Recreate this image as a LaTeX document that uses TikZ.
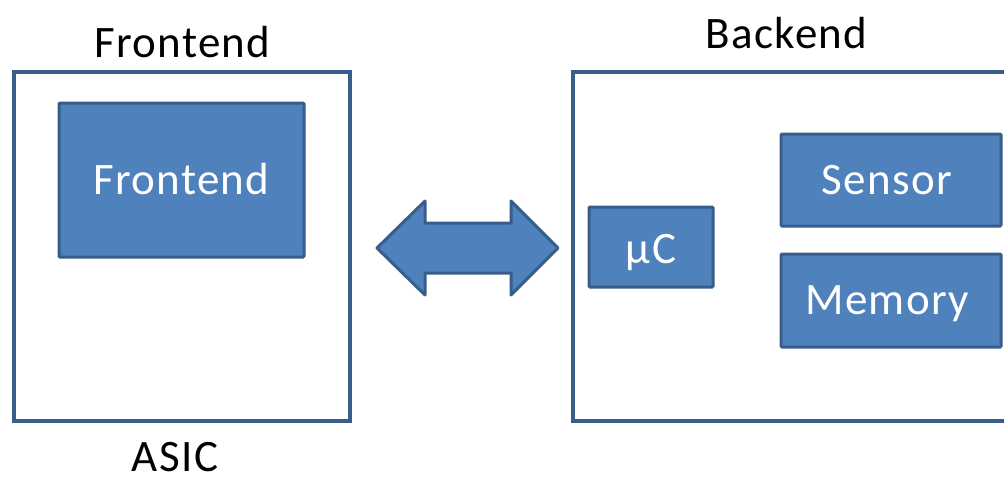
\documentclass[tikz,border=0pt]{standalone}
\usepackage{fontspec}
\setmainfont{Carlito}[LetterSpace=3]
\definecolor{boxfill}{HTML}{4F81BD}
\definecolor{boxline}{HTML}{385D8A}
\begin{document}
\begin{tikzpicture}[x=1pt,y=-1pt,
  outer/.style={draw=boxline,line width=3.5pt,fill=white},
  block/.style={draw=boxline,line width=3pt,fill=boxfill,rounded corners=1pt},
  blocklabel/.style={text=white,font=\fontsize{45}{52}\selectfont,anchor=base,inner sep=0pt},
  title/.style={text=black,font=\fontsize{45}{52}\selectfont,anchor=base,inner sep=0pt}]
\useasboundingbox (0,0) rectangle (1004,477);
\clip (0,0) rectangle (1004,477);
\fill[white] (0,0) rectangle (1004,477);
% outer boxes
\draw[outer] (14,72) rectangle (350,421);
\draw[outer] (573,72) rectangle (1030,421);
% inner blocks
\draw[block] (59,103) rectangle (304,257);
\node[blocklabel] (fe) at (181.5,194) {Frontend};
\draw[block] (589,207) rectangle (713,287);
\node[blocklabel] (uc) at (651,263) {µC};
\draw[block] (781,134) rectangle (1001,226);
\node[blocklabel] (sensor) at (887,194) {Sensor};
\draw[block] (781,254) rectangle (1001,347);
\node[blocklabel] (memory) at (887,314) {Memory};
% titles
\node[title] (tfe) at (182.5,57) {Frontend};
\node[title] (tbe) at (786.5,48) {Backend};
\node[title] (asic) at (175,471) {ASIC};
% double block arrow
\draw[draw=boxline,line width=3pt,fill=boxfill,line join=round]
  (377,248) -- (425,201) -- (425,223) -- (511,223) -- (511,201) -- (558,248)
  -- (511,295) -- (511,273) -- (425,273) -- (425,295) -- cycle;
\end{tikzpicture}
\end{document}
